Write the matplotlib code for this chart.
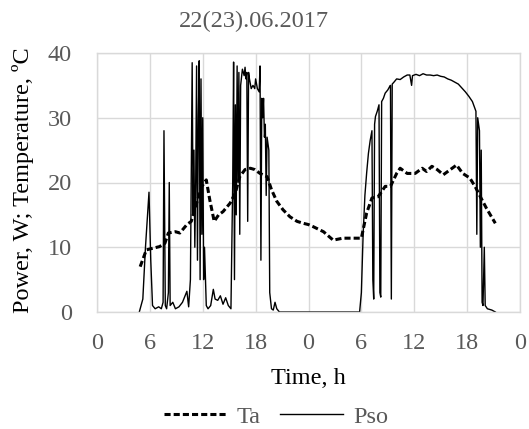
import matplotlib
matplotlib.use("Agg")
import matplotlib.pyplot as plt

# ---- data ----
title = "22(23).06.2017"
x_tick_values = [0, 6, 12, 18, 24, 30, 36, 42, 48]
x_tick_labels = ["0", "6", "12", "18", "0", "6", "12", "18", "0"]
y_tick_values = [0, 10, 20, 30, 40]

ta_hours = [4.9, 5.6, 6.2, 7.1, 7.7, 8.1, 8.9, 9.4, 10.2, 10.7, 11.3, 11.9, 12.4, 12.8,
            13.3, 13.8, 14.3, 15.1, 15.7, 16.2, 16.8, 17.4, 17.9, 18.5, 19.3, 19.8, 20.4,
            21.1, 21.9, 22.7, 23.4, 24.0, 24.5, 25.7, 26.8, 27.9, 30.0, 30.6, 31.2, 31.9,
            32.7, 33.3, 34.0, 34.4, 35.2, 36.1, 36.9, 37.4, 38.0, 38.6, 39.3, 40.1, 40.8,
            41.5, 42.3, 42.9, 43.5, 44.2, 45.2]
ta_values = [7.0, 9.6, 9.8, 10.1, 10.6, 12.2, 12.4, 12.2, 13.5, 14.0, 16.8, 19.4, 20.4, 17.3,
             14.0, 15.0, 15.5, 16.8, 18.4, 20.9, 22.0, 22.2, 22.0, 21.4, 20.9, 18.9, 17.1,
             15.8, 14.7, 14.0, 13.7, 13.5, 13.2, 12.4, 11.1, 11.4, 11.4, 15.3, 17.6, 17.8,
             19.4, 19.4, 21.4, 22.2, 21.4, 21.4, 22.2, 21.7, 22.5, 22.0, 21.2, 22.0, 22.7,
             21.4, 20.7, 19.4, 17.8, 16.0, 13.7]

pso_hours = [4.8, 5.2, 5.5, 5.9, 6.1, 6.3, 6.6, 7.0, 7.3, 7.5, 7.6, 7.75, 7.9, 8.1, 8.2, 8.3,
             8.6, 8.9, 9.3, 9.7, 10.0, 10.2, 10.4, 10.6, 10.8, 10.9, 11.0, 11.1, 11.2, 11.3,
             11.4, 11.5, 11.6, 11.7, 11.8, 11.9, 12.0, 12.1, 12.2, 12.4, 12.6, 12.9, 13.2,
             13.4, 13.7, 14.0, 14.3, 14.6, 14.9, 15.2, 15.4, 15.5, 15.6, 15.7, 15.8, 15.9,
             16.0, 16.1, 16.2, 16.3, 16.5, 16.6, 16.7, 16.8, 16.9, 17.0, 17.1, 17.2, 17.3,
             17.5, 17.7, 17.9, 18.0, 18.2, 18.4, 18.5, 18.6, 18.7, 18.8, 18.9, 19.0, 19.1,
             19.2, 19.3, 19.5, 19.6, 19.8, 20.0, 20.2, 20.4, 20.7, 29.8,
             30.0, 30.2, 30.4, 30.6, 30.8, 31.0, 31.2, 31.3, 31.4, 31.5, 31.6, 31.8, 32.0,
             32.1, 32.2, 32.3, 32.5, 32.7, 33.0, 33.2, 33.3, 33.4, 33.5, 33.7, 34.0, 34.4,
             34.8, 35.2, 35.5, 35.7, 35.8, 36.2, 36.6, 37.0, 37.4, 37.8, 38.2, 38.6, 39.0,
             39.4, 39.8, 40.2, 40.6, 41.0, 41.4, 41.8, 42.2, 42.6, 43.0, 43.1, 43.2, 43.4,
             43.5, 43.6, 43.7, 43.8, 43.95, 44.05, 44.3, 44.8, 45.2]
pso_values = [0, 2, 10, 18.5, 8, 1, 0.5, 0.8, 0.5, 1.5, 28, 1, 0.5, 3, 20, 1,
              1.5, 0.5, 0.8, 1.5, 2.5, 3.2, 0.8, 5, 38.5, 15, 25, 10, 20, 38,
              8, 30, 38.8, 5, 36, 12, 30, 5, 10, 1, 0.5, 1, 3.5,
              2, 1.8, 2.5, 1.2, 2.2, 1, 0.5, 20, 38.6, 5, 32, 15, 38,
              20, 37, 12, 35, 37.5, 37, 36.5, 37.8, 36, 37, 14, 37, 36,
              34.5, 35, 34.5, 36, 34.5, 34, 38, 8, 33, 30, 33, 27, 29,
              18, 27, 25, 3, 0.5, 0.3, 1.5, 0.5, 0, 0,
              3, 12, 18, 21.5, 24.5, 26.5, 28, 5, 2, 29, 30.2, 31, 32,
              3, 2.3, 32.5, 33, 33.8, 34.3, 34.8, 35, 2, 35.2, 35.5, 36, 35.9,
              36.3, 36.6, 36.6, 35, 36.5, 36.7, 36.5, 36.8, 36.6, 36.6, 36.5, 36.6, 36.4,
              36.3, 36.0, 35.8, 35.5, 35.2, 34.6, 34, 33.3, 32.5, 31, 12, 30, 28,
              10, 25, 1.5, 1, 10, 1, 0.5, 0.3, 0]

# ---- style ----
plt.rcParams['font.family'] = ['Liberation Serif', 'DejaVu Serif']
FS = 17.5
GRAY = "#595959"
GRID = "#d9d9d9"

fig = plt.figure(figsize=(5.29, 4.29), dpi=100)
ax = fig.add_axes([97/529, 1-312/429, (520-97)/529, (312-53)/429])

ax.plot(ta_hours, ta_values, color="black", lw=2.2, linestyle=(0, (2, 1)), label="Ta")
ax.plot(pso_hours, pso_values, color="black", lw=1.0, label="Pso")

ax.set_xlim(0, 48)
ax.set_ylim(0, 40)
ax.set_xticks(x_tick_values)
ax.set_xticklabels(x_tick_labels)
ax.set_yticks(y_tick_values)
ax.grid(True, color=GRID, lw=1.0)
ax.set_axisbelow(True)
for s in ax.spines.values():
    s.set_color(GRID)
    s.set_linewidth(1.0)
ax.tick_params(axis='both', length=0, labelsize=FS, colors=GRAY)
ax.tick_params(axis='y', pad=18)
ax.tick_params(axis='x', pad=15)

ax.set_xlabel("Time, h", fontsize=FS, color="black", labelpad=10)
fig.text(23/529, 1-180/429, "Power, W; Temperature, ºC", rotation=90, fontsize=FS,
         ha="center", va="center", color="black")
fig.text(254/529, 1-21/429, title, fontsize=FS, ha="center", va="center", color=GRAY)

leg = fig.legend(loc="center", bbox_to_anchor=(276/529, 1-417/429), ncol=2, frameon=False,
                 fontsize=FS, handlelength=2.6, handletextpad=0.4, columnspacing=0.8,
                 borderaxespad=0, borderpad=0)
for t in leg.get_texts():
    t.set_color(GRAY)

fig.savefig("out.png", dpi=100)
